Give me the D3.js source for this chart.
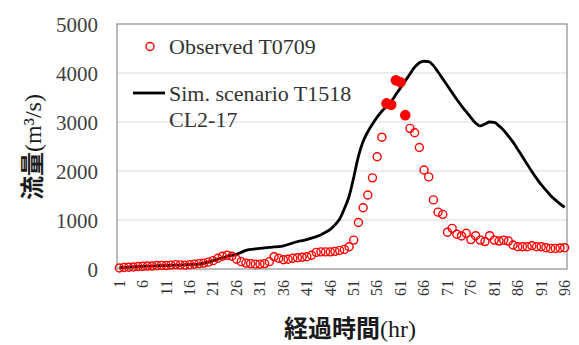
<!DOCTYPE html>
<html>
<head>
<meta charset="utf-8">
<script src="https://cdn.jsdelivr.net/npm/d3@7"></script>
<style>
  body { margin: 0; background: #fff; }
  svg { display: block; }
</style>
</head>
<body>
<svg id="chart"></svg>
<script>
// hours 1..96
var hours = d3.range(1, 97);

// observed discharge T0709 (m3/s)
var observed = [20, 30, 35, 40, 50, 55, 60, 60, 70, 75,
  70, 80, 90, 85, 80, 90, 100, 110, 120, 140,
  170, 220, 260, 280, 260, 200, 150, 120, 110, 100,
  100, 110, 150, 250, 220, 190, 200, 220, 230, 240,
  250, 280, 340, 350, 350, 350, 360, 380, 400, 455,
  590, 950, 1250, 1510, 1860, 2290, 2690, 3380, 3350, 3850,
  3810, 3140, 2870, 2780, 2480, 2020, 1880, 1410, 1160, 1115,
  750, 830, 710, 675, 730, 600, 680, 590, 560, 680,
  590, 570, 590, 570, 490, 455, 455, 455, 475, 455,
  455, 435, 420, 420, 430, 435];

// hours where the observed marker is filled
var filledHours = [58, 59, 60, 61, 62];

// simulated scenario T1518 CL2-17
var simulated = [30, 35, 40, 45, 50, 55, 60, 60, 65, 70,
  70, 75, 80, 80, 85, 90, 95, 100, 120, 140,
  170, 200, 230, 260, 280, 300, 340, 380, 400, 410,
  420, 430, 440, 450, 455, 470, 500, 530, 560, 580,
  600, 630, 660, 700, 750, 810, 900, 1020, 1230, 1480,
  1870, 2300, 2600, 2800, 2960, 3100, 3220, 3320, 3420, 3560,
  3700, 3840, 3980, 4120, 4210, 4240, 4230, 4150, 4020, 3880,
  3740, 3600, 3460, 3330, 3210, 3090, 2980, 2920, 2960, 3000,
  2990, 2920, 2830, 2710, 2590, 2440, 2290, 2140, 1990, 1850,
  1720, 1610, 1500, 1410, 1330, 1260];

var yTicks = [0, 1000, 2000, 3000, 4000, 5000];
var xTickLabels = hours.filter(function(h) { return (h - 1) % 5 === 0; });

var svgWidth = 579, svgHeight = 345;
var margin = { top: 24, right: 12, bottom: 76, left: 117 };
var width = svgWidth - margin.left - margin.right;
var height = svgHeight - margin.top - margin.bottom;

var svg = d3.select("#chart")
  .attr("width", svgWidth)
  .attr("height", svgHeight);

var g = svg.append("g")
  .attr("transform", "translate(" + margin.left + "," + margin.top + ")");

var x = d3.scaleBand().domain(hours).range([0, width]);
var y = d3.scaleLinear().domain([0, 5000]).range([height, 0]);
var cx = function(h) { return x(h) + x.bandwidth() / 2; };

var serif = "'Liberation Serif', 'Times New Roman', serif";
var textColor = "#404040";

// gridlines
g.append("g")
  .selectAll("line")
  .data(yTicks.slice(1, -1))
  .enter().append("line")
  .attr("x1", 0).attr("x2", width)
  .attr("y1", function(d) { return y(d); })
  .attr("y2", function(d) { return y(d); })
  .attr("stroke", "#d9d9d9")
  .attr("stroke-width", 1);

// plot border
g.append("rect")
  .attr("x", 0).attr("y", 0)
  .attr("width", width).attr("height", height)
  .attr("fill", "none")
  .attr("stroke", "#8c8c8c")
  .attr("stroke-width", 1.2);

// Y axis
var yAxis = g.append("g")
  .call(d3.axisLeft(y).tickValues(yTicks).tickFormat(d3.format("d")).tickSize(0).tickPadding(19));
yAxis.select(".domain").remove();
yAxis.selectAll("text")
  .style("font-family", serif)
  .style("font-size", "21px")
  .attr("fill", textColor)
  .attr("dy", "0.34em");

// X axis (every 5th hour, rotated)
var xAxis = g.append("g")
  .attr("transform", "translate(0," + height + ")")
  .call(d3.axisBottom(x).tickValues(xTickLabels).tickSize(0).tickPadding(0));
xAxis.select(".domain").remove();
xAxis.selectAll("text")
  .style("font-family", serif)
  .style("font-size", "16px")
  .attr("fill", "#333")
  .style("text-anchor", "end")
  .attr("x", -11)
  .attr("y", 0)
  .attr("dy", "0.33em")
  .attr("transform", "rotate(-90)");

// simulated line
var simLine = d3.line()
  .x(function(d, i) { return cx(hours[i]); })
  .y(function(d) { return y(d); })
  .curve(d3.curveMonotoneX);

g.append("path")
  .datum(simulated)
  .attr("fill", "none")
  .attr("stroke", "#000")
  .attr("stroke-width", 2.8)
  .attr("stroke-linejoin", "round")
  .attr("d", simLine);

// observed markers
g.append("g")
  .selectAll("circle")
  .data(observed)
  .enter().append("circle")
  .attr("cx", function(d, i) { return cx(hours[i]); })
  .attr("cy", function(d) { return y(d); })
  .attr("r", function(d, i) { return filledHours.indexOf(hours[i]) >= 0 ? 4.6 : 4; })
  .attr("fill", function(d, i) { return filledHours.indexOf(hours[i]) >= 0 ? "#ff0000" : "none"; })
  .attr("stroke", "#ff0000")
  .attr("stroke-width", 1.4);

// legend
var legend = svg.append("g");
legend.append("circle")
  .attr("cx", 150).attr("cy", 46.5).attr("r", 4)
  .attr("fill", "none").attr("stroke", "#ff0000").attr("stroke-width", 1.4);
legend.append("text")
  .attr("x", 169).attr("y", 54)
  .style("font-family", serif).style("font-size", "22px")
  .attr("fill", "#333")
  .text("Observed T0709");
legend.append("line")
  .attr("x1", 133).attr("x2", 165)
  .attr("y1", 93).attr("y2", 93)
  .attr("stroke", "#000").attr("stroke-width", 2.8);
legend.append("text")
  .attr("x", 169).attr("y", 100.5)
  .style("font-family", serif).style("font-size", "22px")
  .attr("fill", "#333")
  .text("Sim. scenario T1518");
legend.append("text")
  .attr("x", 169).attr("y", 126.5)
  .style("font-family", serif).style("font-size", "22px")
  .attr("fill", "#333")
  .text("CL2-17");

// axis titles
var cjk = "'Noto Sans CJK JP', 'Noto Sans CJK SC', sans-serif";
var xTitle = svg.append("text")
  .attr("x", 350).attr("y", 337)
  .attr("text-anchor", "middle")
  .attr("fill", "#1a1a1a")
  .style("font-size", "24px");
xTitle.append("tspan").style("font-family", cjk).style("font-weight", "bold").text("経過時間");
xTitle.append("tspan").style("font-family", serif).text("(hr)");

var yTitle = svg.append("text")
  .attr("transform", "translate(41,147) rotate(-90)")
  .attr("text-anchor", "middle")
  .attr("fill", "#1a1a1a")
  .style("font-size", "24px");
yTitle.append("tspan").style("font-family", cjk).style("font-weight", "bold").text("流量");
yTitle.append("tspan").style("font-family", serif).text("(m³/s)");
</script>
</body>
</html>
